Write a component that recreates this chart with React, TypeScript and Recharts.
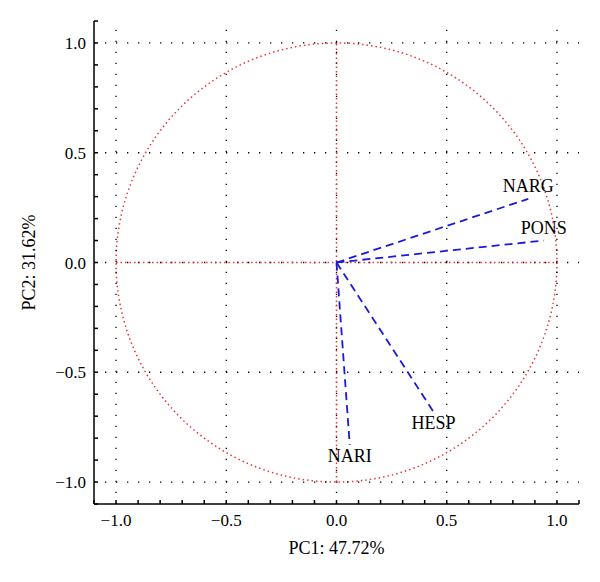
import {
  ScatterChart,
  Scatter,
  XAxis,
  YAxis,
  ReferenceLine,
  ReferenceArea,
  Label,
} from "recharts";

// PCA loadings
const variables = ["NARG", "PONS", "HESP", "NARI"];
const pc1Loadings = [0.87, 0.94, 0.44, 0.06];
const pc2Loadings = [0.29, 0.1, -0.68, -0.83];

const majorTicks = [-1, -0.5, 0, 0.5, 1];
const minorTicks = [
  -1.1, -1, -0.9, -0.8, -0.7, -0.6, -0.5, -0.4, -0.3, -0.2, -0.1, 0, 0.1, 0.2,
  0.3, 0.4, 0.5, 0.6, 0.7, 0.8, 0.9, 1, 1.1,
];
const axisDomain = [-1.1, 1.1];
const circleRadius = 1;

const xTitle = "PC1: 47.72%";
const yTitle = "PC2: 31.62%";

const loadings = variables.map((name, i) => ({
  name,
  x: pc1Loadings[i],
  y: pc2Loadings[i],
}));

const FONT = "'Liberation Serif', 'Times New Roman', serif";
const RED = "#e8343c";
const BLUE = "#1b1bd6";

const isMajor = (v: number) => Math.abs(v * 2 - Math.round(v * 2)) < 1e-6;
const fmtTick = (v: number) =>
  isMajor(v) ? v.toFixed(1).replace("-", "\u2212") : "";

const tickStyle = { fill: "#000", fontSize: 17, style: { fontFamily: FONT } };

const VarLabel = (props: any) => {
  const { cx, cy, payload } = props;
  if (cx == null || cy == null) return null;
  const above = payload.y > 0;
  return (
    <text
      x={cx}
      y={cy + (above ? -7 : 17)}
      textAnchor="middle"
      fontSize={18}
      style={{ fontFamily: FONT }}
      fill="#000"
    >
      {payload.name}
    </text>
  );
};

const CircleShape = (props: any) => {
  const { x, y, width, height } = props;
  return (
    <ellipse
      cx={x + width / 2}
      cy={y + height / 2}
      rx={Math.abs(width) / 2}
      ry={Math.abs(height) / 2}
      fill="none"
      stroke={RED}
      strokeWidth={1.5}
      strokeDasharray="1.5 3"
    />
  );
};

export default function App() {
  // page body keeps its default 8px margin, margins below account for it
  return (
    <ScatterChart
      width={600}
      height={582}
      margin={{ top: 13, right: 29, bottom: 36, left: 6 }}
      style={{ fontFamily: FONT }}
    >
      <XAxis
        type="number"
        dataKey="x"
        domain={axisDomain}
        allowDataOverflow
        ticks={minorTicks}
        interval={0}
        tickFormatter={fmtTick}
        tickSize={-4}
        tickMargin={14}
        height={50}
        stroke="#000"
        strokeWidth={1.5}
        tick={tickStyle}
      >
        <Label
          value={xTitle}
          position="insideBottom"
          offset={0}
          style={{ fontSize: 18, fontFamily: FONT, fill: "#000" }}
        />
      </XAxis>
      <XAxis
        xAxisId="top"
        orientation="top"
        type="number"
        domain={axisDomain}
        allowDataOverflow
        ticks={minorTicks}
        interval={0}
        tickFormatter={() => ""}
        tickSize={-4}
        height={0}
        stroke="#000"
        strokeWidth={1.5}
      />
      <YAxis
        type="number"
        dataKey="y"
        domain={axisDomain}
        allowDataOverflow
        ticks={minorTicks}
        interval={0}
        tickFormatter={fmtTick}
        tickSize={-4}
        tickMargin={12}
        width={80}
        stroke="#000"
        strokeWidth={1.5}
        tick={tickStyle}
      >
        <Label
          value={yTitle}
          angle={-90}
          position="insideLeft"
          offset={15}
          style={{
            fontSize: 18,
            fontFamily: FONT,
            fill: "#000",
            textAnchor: "middle",
          }}
        />
      </YAxis>
      <YAxis
        yAxisId="right"
        orientation="right"
        type="number"
        domain={axisDomain}
        allowDataOverflow
        ticks={minorTicks}
        interval={0}
        tickFormatter={() => ""}
        tickSize={-4}
        width={0}
        stroke="#000"
        strokeWidth={1.5}
      />

      {majorTicks.map((v) => (
        <ReferenceLine
          key={"gx" + v}
          x={v}
          stroke="#000"
          strokeWidth={1.3}
          strokeDasharray="1.3 9.7"
        />
      ))}
      {majorTicks.map((v) => (
        <ReferenceLine
          key={"gy" + v}
          y={v}
          stroke="#000"
          strokeWidth={1.3}
          strokeDasharray="1.3 9.7"
        />
      ))}

      <ReferenceArea
        x1={-circleRadius}
        x2={circleRadius}
        y1={-circleRadius}
        y2={circleRadius}
        shape={CircleShape}
      />
      <ReferenceLine
        segment={[
          { x: -circleRadius, y: 0 },
          { x: circleRadius, y: 0 },
        ]}
        stroke={RED}
        strokeWidth={1.5}
        strokeDasharray="1.5 3"
      />
      <ReferenceLine
        segment={[
          { x: 0, y: -circleRadius },
          { x: 0, y: circleRadius },
        ]}
        stroke={RED}
        strokeWidth={1.5}
        strokeDasharray="1.5 3"
      />

      {loadings.map((d) => (
        <ReferenceLine
          key={"v" + d.name}
          segment={[
            { x: 0, y: 0 },
            { x: d.x, y: d.y },
          ]}
          stroke={BLUE}
          strokeWidth={1.8}
          strokeDasharray="8 5"
        />
      ))}

      <Scatter
        data={loadings}
        shape={VarLabel}
        isAnimationActive={false}
      />
    </ScatterChart>
  );
}
